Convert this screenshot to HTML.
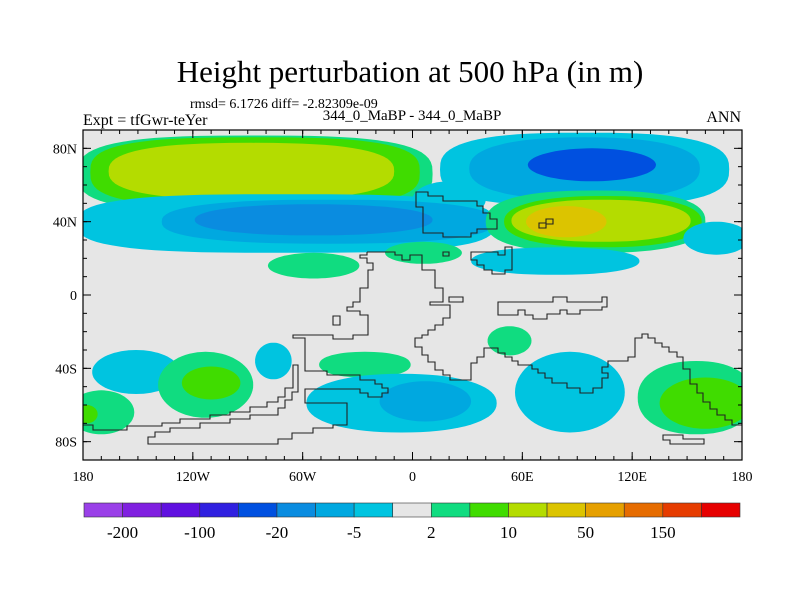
<!DOCTYPE html>
<html><head><meta charset="utf-8"><style>
html,body{margin:0;padding:0;background:#fff}
svg{display:block}
text{font-family:"Liberation Serif",serif;fill:#000}
</style></head><body>
<svg id="chart" width="800" height="600" viewBox="0 0 800 600">
<defs><clipPath id="plotclip"><rect x="83" y="130" width="659" height="330"/></clipPath></defs>
<text x="410" y="82" font-size="31" text-anchor="middle">Height perturbation at 500 hPa (in m)</text>
<text x="190" y="108" font-size="14">rmsd= 6.1726 diff= -2.82309e-09</text>
<text x="83" y="125" font-size="16">Expt = tfGwr-teYer</text>
<text x="412" y="120" font-size="15" text-anchor="middle">344_0_MaBP - 344_0_MaBP</text>
<text x="741" y="122" font-size="16" text-anchor="end">ANN</text>
<rect x="83" y="130" width="659" height="330" fill="#e6e6e6"/>
<g id="field" clip-path="url(#plotclip)"></g>
<g clip-path="url(#plotclip)" fill="none" stroke="#222" stroke-width="1.1">
<path d="M367,252 H395 V255 H402 V260 H410 V255 H422 V270 H435 V288 H443 V302 H430 V305 H450 V318 H443 V325 H435 V330 H428 V335 H422 V338 H415 V347 H422 V355 H428 V362 H435 V370 H443 V375 H450 V380 H471 V363 H477 V357 H484 V348 H498 V353 H505 V357 H512 V361 H518 V365 H532 V369 H538 V373 H545 V378 H552 V383 H567 V388 H580 V393 H593 V388 H602 V378 H608 V373 H602 V367 H608 V361 H628 V357 H635 V338 H642 V334 H648 V338 H655 V343 H662 V347 H669 V352 H677 V357 H683 V369 H690 V384 H697 V393 H703 V402 H710 V409 H717 V415 H725 V420 H732 V425 H742"/>
<path d="M367,252 V255 H360 V258 H367 V263 H373 V270 H368 V288 H360 V302 H353 V307 H347 V311 H360 V315 H368 V335 H353 V339 H333 V335 H293 V338 H305 V371 H327 V375 H360 V380 H375 V384 H382 V388 H388 V393 H382 V397 H368 V393 H360 V389 H305 V403 H347 V425 H333 V428 H313 V433 H292 V439 H278 V444 H148 V437 H155 V432 H170 V428 H200 V423 H230 V419 H250 V415 H278 V408 H285 V400 H292 V392 H298 V365 H293 V388 H285 V397 H278 V402 H267 V407 H250 V412 H230 V415 H210 V419 H180 V423 H162 V426 H127 V430 H93 V425 H83"/>
<path d="M416,192 H428 V196 H443 V201 H477 V206 H483 V213 H490 V219 H497 V229 H477 V233 H471 V237 H443 V233 H423 V207 H416 Z"/>
<path d="M471,252 H498 V255 H505 V247 H512 V270 H505 V274 H492 V270 H484 V265 H477 V260 H471 Z"/>
<path d="M498,302 H553 V297 H567 V302 H602 V297 H607 V307 H602 V310 H580 V314 H567 V310 H560 V314 H547 V319 H533 V315 H525 V310 H518 V315 H498 Z"/>
<path d="M443,252 H449 V256 H443 Z M449,297 H463 V302 H449 Z M333,316 H340 V325 H333 Z M539,223 H546 V228 H539 Z M546,219 H553 V224 H546 Z M663,435 H683 V439 H704 V444 H670 V440 H663 Z"/>
</g>
<rect x="83" y="130" width="659" height="330" fill="none" stroke="#000" stroke-width="1.2"/>
<g id="axes"></g>
<g id="colorbar"></g>
</svg>
<script>
const NS='http://www.w3.org/2000/svg';
// contour blobs: each layer drawn outer to inner
const blobLon=[-86,-86,-88,-69,20,-46,-54,94,94,98,100,104,103,84,166,78,-54,6,-151,-113,-110,-170,-178,-76,-26,-6,7,86,53,155,160];
const blobLat=[66,67,67.5,39,52,40,41,68.5,69,71,40,40,40.5,40,31,18.5,16,23,-42,-49,-48,-64,-65,-36,-38,-59,-58,-53,-25,-56,-59];
const blobRx=[97,90,78,114,20,91,65,79,63,35,60,54,49,22,18,46,25,21,24,26,16,18,6,10,25,52,25,30,12,32,25];
const blobRy=[21,19,15.5,16,10,12,8.5,20,17,9,17,14,11.5,8.5,9,7.5,7,6,12,18,9,12,5,10,7,16,11,22,8,20,14];
const blobLevel=[9,10,11,7,7,6,5,7,6,4,9,10,11,12,7,7,9,9,7,9,10,9,10,7,9,7,6,7,9,9,10];
const blobShape=[3,3,2.6,3,2,2.5,2.2,2.8,2.4,2,2.5,2.3,2.2,2,2,2.2,2,2,2,2,2,2,2,2,2.2,2.2,2,2,2,2.2,2];
const levelColors=['#9a40e8','#8020e0','#6010e0','#3020e0','#0050e0','#0a8ce0','#00a8e0','#00c4e0','#e6e6e6','#10dc80','#40dc00','#b4dc00','#dcc400','#e6a000','#e66c00','#e63c00','#e60000'];
const cbLabels=['-200','-100','-20','-5','2','10','50','150'];
const xTickLon=[-180,-120,-60,0,60,120,180];
const xTickLabels=['180','120W','60W','0','60E','120E','180'];
const yTickLat=[80,40,0,-40,-80];
const yTickLabels=['80N','40N','0','40S','80S'];

const X0=83,X1=742,Y0=130,Y1=460;
const xScale=lon=>X0+(lon+180)/360*(X1-X0);
const yScale=lat=>Y0+(90-lat)/180*(Y1-Y0);

const field=document.getElementById('field');
for(let i=0;i<blobLon.length;i++){
  const cx=xScale(blobLon[i]),cy=yScale(blobLat[i]);
  const rx=blobRx[i]*(X1-X0)/360,ry=blobRy[i]*(Y1-Y0)/180,p=blobShape[i];
  let d='';
  for(let k=0;k<=72;k++){
    const t=k/72*2*Math.PI,c=Math.cos(t),s=Math.sin(t);
    const px=cx+rx*Math.sign(c)*Math.pow(Math.abs(c),2/p);
    const py=cy+ry*Math.sign(s)*Math.pow(Math.abs(s),2/p);
    d+=(k?'L':'M')+px.toFixed(1)+','+py.toFixed(1);
  }
  const el=document.createElementNS(NS,'path');
  el.setAttribute('d',d+'Z');
  el.setAttribute('fill',levelColors[blobLevel[i]]);
  
  
  field.appendChild(el);
}

const axes=document.getElementById('axes');
function line(x1,y1,x2,y2,name){
  const l=document.createElementNS(NS,'line');
  l.setAttribute('x1',x1);l.setAttribute('y1',y1);l.setAttribute('x2',x2);l.setAttribute('y2',y2);
  l.setAttribute('stroke','#000');l.setAttribute('stroke-width','1');
  
  
  axes.appendChild(l);
}
function txt(x,y,s,anchor,name,size){
  const t=document.createElementNS(NS,'text');
  t.setAttribute('x',x);t.setAttribute('y',y);t.setAttribute('text-anchor',anchor);
  t.setAttribute('font-size',size||14);t.textContent=s;
  
  
  axes.appendChild(t);
}
for(let lon=-170;lon<180;lon+=10){const x=xScale(lon);line(x,Y0,x,Y0+4,'x-minor-tick');line(x,Y1,x,Y1-4,'x-minor-tick');}
for(let lat=-80;lat<=80;lat+=10){const y=yScale(lat);line(X0,y,X0+4,y,'y-minor-tick');line(X1,y,X1-4,y,'y-minor-tick');}
xTickLon.forEach((lon,i)=>{const x=xScale(lon);line(x,Y0,x,Y0+8,'x-major-tick');line(x,Y1,x,Y1-8,'x-major-tick');txt(x,Y1+21,xTickLabels[i],'middle','x-tick-label');});
yTickLat.forEach((lat,i)=>{const y=yScale(lat);line(X0,y,X0+8,y,'y-major-tick');line(X1,y,X1-8,y,'y-major-tick');txt(X0-6,y+5,yTickLabels[i],'end','y-tick-label');});

const cb=document.getElementById('colorbar');
const cbX=84,cbW=656,cbY=503,cbH=14,bw=cbW/levelColors.length;
levelColors.forEach((c,i)=>{
  const r=document.createElementNS(NS,'rect');
  r.setAttribute('x',cbX+i*bw);r.setAttribute('y',cbY);r.setAttribute('width',bw);r.setAttribute('height',cbH);
  r.setAttribute('fill',c);r.setAttribute('stroke','#333');r.setAttribute('stroke-width','0.6');
  
  
  cb.appendChild(r);
});
cbLabels.forEach((s,i)=>{
  const t=document.createElementNS(NS,'text');
  t.setAttribute('x',cbX+(1+2*i)*bw);t.setAttribute('y',cbY+cbH+21);t.setAttribute('text-anchor','middle');
  t.setAttribute('font-size','17');t.textContent=s;
  
  
  cb.appendChild(t);
});
</script>
</body></html>
